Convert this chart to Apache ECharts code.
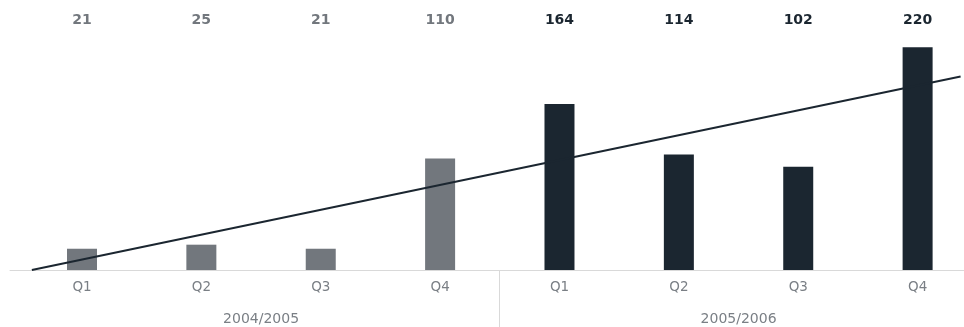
<!DOCTYPE html>
<html>
<head>
<meta charset="utf-8">
<style>
  html, body { margin: 0; padding: 0; background: #ffffff; }
  #chart { width: 964px; height: 327px; }
</style>
<script src="https://cdn.jsdelivr.net/npm/echarts@6/dist/echarts.min.js"></script>
</head>
<body>
<div id="chart"></div>
<script>
// Quarterly results, two fiscal years
const quarters = ['Q1', 'Q2', 'Q3', 'Q4', 'Q1', 'Q2', 'Q3', 'Q4'];
const years = ['2004/2005', '2005/2006'];
const values = [21, 25, 21, 110, 164, 114, 102, 220];

// Trend line end points (category position, value)
const trendX = [-0.42, 7.36];
const trendY = [0, 191];

// Category position of the fiscal-year divider
const yearSplit = [3.5];

const GREY = '#72777d';
const DARK = '#1b2630';
const FONT = 'DejaVu Sans';

const chart = echarts.init(document.getElementById('chart'));

chart.setOption({
  animation: false,
  grid: [
    // plot area: eight equal quarter bands
    { left: 22.3, right: -13.3, top: 30, bottom: 57, outerBoundsMode: 'none' },
    // strip under the baseline: base line and year divider
    { left: 10, right: 0, top: 270, bottom: 0, outerBoundsMode: 'none' }
  ],
  xAxis: [
    {
      type: 'category',
      gridIndex: 0,
      data: quarters,
      position: 'bottom',
      axisLine: { show: false },
      axisTick: { show: false },
      axisLabel: { color: '#7a7f85', fontFamily: FONT, fontSize: 13.5, margin: 10 }
    },
    {
      type: 'category',
      gridIndex: 0,
      data: years,
      position: 'bottom',
      axisLine: { show: false },
      axisTick: { show: false },
      axisLabel: { color: '#7a7f85', fontFamily: FONT, fontSize: 14, margin: 42 }
    },
    {
      type: 'category',
      gridIndex: 0,
      data: values.map(String),
      position: 'top',
      axisLine: { show: false },
      axisTick: { show: false },
      axisLabel: {
        margin: 10,
        verticalAlign: 'middle',
        formatter: function (v, i) { return (i < 4 ? '{g|' : '{d|') + v + '}'; },
        rich: {
          g: { color: GREY, fontFamily: FONT, fontWeight: 'bold', fontSize: 14 },
          d: { color: DARK, fontFamily: FONT, fontWeight: 'bold', fontSize: 14 }
        }
      }
    },
    {
      type: 'value',
      gridIndex: 0,
      min: -0.5,
      max: 7.5,
      show: false
    },
    {
      // same category scale, widened to the base line's extent
      type: 'value',
      gridIndex: 1,
      position: 'top',
      min: -0.6,
      max: 7.39,
      interval: yearSplit[0] + 0.6,
      axisLine: { show: true, onZero: false, lineStyle: { color: '#d9d9d9', width: 1 } },
      axisTick: { show: false },
      axisLabel: { show: false },
      splitLine: {
        show: true,
        showMinLine: false,
        showMaxLine: false,
        lineStyle: { color: '#d9d9d9', width: 1 }
      }
    }
  ],
  yAxis: [
    { type: 'value', gridIndex: 0, min: 0, max: 237, show: false },
    { type: 'value', gridIndex: 1, min: 0, max: 1, show: false }
  ],
  series: [
    {
      type: 'bar',
      xAxisIndex: 0,
      yAxisIndex: 0,
      barWidth: 30,
      data: values.map(function (v, i) {
        return { value: v, itemStyle: { color: i < 4 ? GREY : DARK } };
      }),
      z: 2
    },
    {
      type: 'line',
      xAxisIndex: 3,
      yAxisIndex: 0,
      data: trendX.map(function (x, i) { return [x, trendY[i]]; }),
      symbol: 'none',
      lineStyle: { color: DARK, width: 2 },
      z: 3
    }
  ]
});
</script>
</body>
</html>
